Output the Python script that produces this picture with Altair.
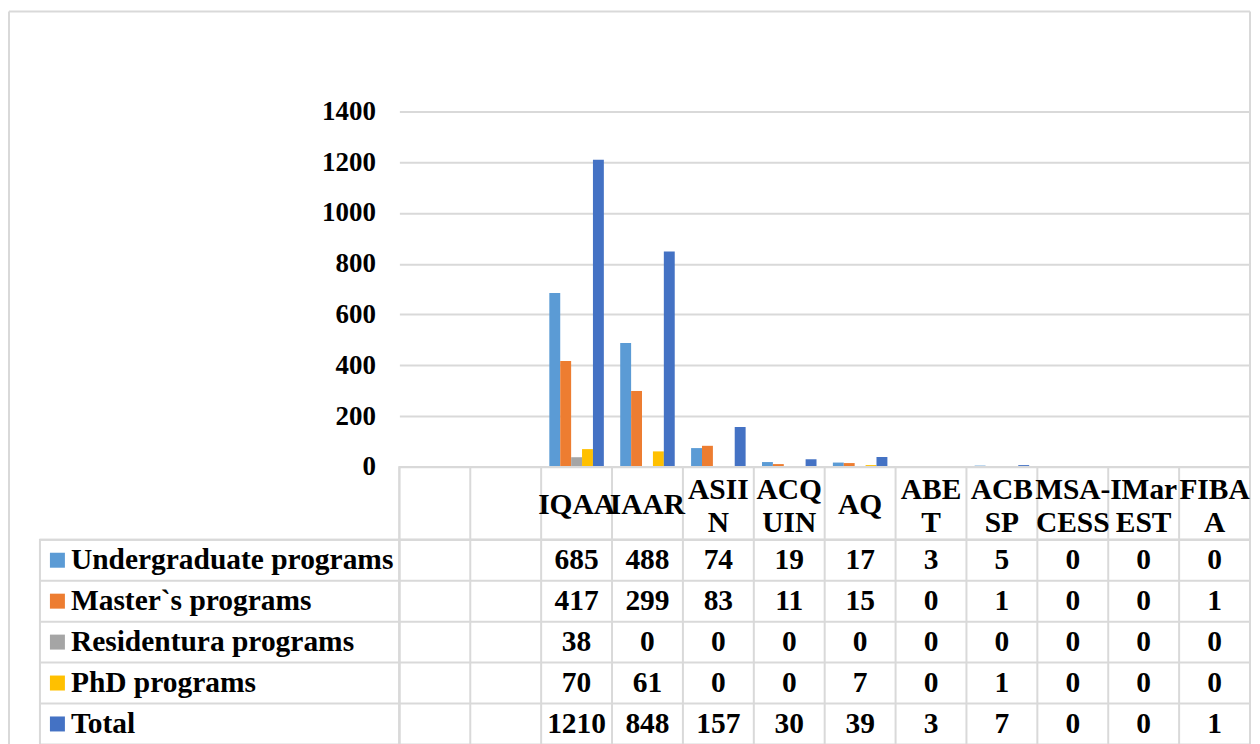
import altair as alt
import pandas as pd

# ---------------- data ----------------
blank_columns = ["_blank1", "_blank2"]
categories = ["IQAA", "IAAR", "ASIIN", "ACQUIN", "AQ", "ABET", "ACBSP",
              "MSA-CESS", "IMarEST", "FIBAA"]
header_labels = ["IQAA", "IAAR", "ASII\nN", "ACQ\nUIN", "AQ", "ABE\nT",
                 "ACB\nSP", "MSA-\nCESS", "IMar\nEST", "FIBA\nA"]
series = ["Undergraduate programs", "Master`s programs",
          "Residentura programs", "PhD programs", "Total"]
undergraduate = [685, 488, 74, 19, 17, 3, 5, 0, 0, 0]
masters = [417, 299, 83, 11, 15, 0, 1, 0, 0, 1]
residentura = [38, 0, 0, 0, 0, 0, 0, 0, 0, 0]
phd = [70, 61, 0, 0, 7, 0, 1, 0, 0, 0]
total = [1210, 848, 157, 30, 39, 3, 7, 0, 0, 1]
y_ticks = [0, 200, 400, 600, 800, 1000, 1200, 1400]

colors = ["#5B9BD5", "#ED7D31", "#A5A5A5", "#FFC000", "#4472C4"]
GRID = "#D9D9D9"
FONT = "Liberation Serif"
FS = 29.5

rows = []
for s, vals in zip(series, [undergraduate, masters, residentura, phd, total]):
    for c, v in zip(categories, vals):
        rows.append({"series": s, "category": c, "value": v})
df = pd.DataFrame(rows)
hdr_df = pd.DataFrame({"category": categories, "label": header_labels})
hdr_df["nlines"] = hdr_df["label"].str.count("\n") + 1
col_df = pd.DataFrame({"category": blank_columns + categories})
ser_df = pd.DataFrame({"series": series})
one = pd.DataFrame({"k": [0]})

# ---------------- geometry ----------------
LABEL_W = 360
PLOT_W = 852
BAR_H = 356
HDR_H = 73
TABLE_H = 205

x_scale = alt.Scale(domain=blank_columns + categories, paddingInner=0, paddingOuter=0)
y_rows = alt.Scale(domain=series, paddingInner=0, paddingOuter=0)
color_scale = alt.Scale(domain=series, range=colors)
table_view = alt.ViewBackground(stroke=GRID, strokeWidth=2)

# ---------------- top-left (outer chart border) ----------------
RIGHT = LABEL_W + PLOT_W
border = alt.Chart(one).mark_rule(color=GRID, strokeWidth=2)
top_left = alt.layer(
    border.encode(x=alt.value(-31), y=alt.value(-100), y2=alt.value(660)),
    border.encode(x=alt.value(-31), x2=alt.value(RIGHT), y=alt.value(-100)),
    border.encode(x=alt.value(RIGHT), y=alt.value(-100), y2=alt.value(660)),
).properties(width=LABEL_W, height=BAR_H)

# ---------------- bars ----------------
bars = alt.Chart(df).mark_bar().encode(
    x=alt.X("category:N", scale=x_scale, axis=None),
    xOffset=alt.XOffset("series:N",
                        scale=alt.Scale(domain=series, paddingInner=0, paddingOuter=0.75)),
    y=alt.Y("value:Q", scale=alt.Scale(domain=[0, 1400], nice=False),
            axis=alt.Axis(values=y_ticks, format="d", title=None, grid=True,
                          gridColor=GRID, gridWidth=2, domain=False, ticks=False,
                          labelFont=FONT, labelFontWeight="bold", labelFontSize=27,
                          labelColor="black", labelPadding=24)),
    color=alt.Color("series:N", scale=color_scale, legend=None),
).properties(width=PLOT_W, height=BAR_H)

# ---------------- middle-left (empty) ----------------
mid_left = alt.Chart(one).mark_text(text="").encode(
    x=alt.value(0), y=alt.value(0)
).properties(width=LABEL_W, height=HDR_H)

# ---------------- header row ----------------
hdr_lines = alt.Chart(col_df).mark_rule(color=GRID, strokeWidth=2).encode(
    x=alt.X("category:N", scale=x_scale, axis=None, bandPosition=0)
)
hdr_base = alt.Chart(hdr_df).mark_text(
    font=FONT, fontWeight="bold", fontSize=FS, color="black",
    lineBreak="\n", lineHeight=33, baseline="middle", align="center"
)
hdr_one = hdr_base.transform_filter(alt.datum.nlines == 1).encode(
    x=alt.X("category:N", scale=x_scale, axis=None),
    y=alt.value(38),
    text="label:N",
)
hdr_two = hdr_base.transform_filter(alt.datum.nlines == 2).encode(
    x=alt.X("category:N", scale=x_scale, axis=None),
    y=alt.value(23),
    text="label:N",
)
header = alt.layer(hdr_lines, hdr_one, hdr_two).properties(
    width=PLOT_W, height=HDR_H, view=table_view)

# ---------------- label column ----------------
lab_lines = alt.Chart(ser_df).mark_rule(color=GRID, strokeWidth=2).encode(
    y=alt.Y("series:N", scale=y_rows, axis=None, bandPosition=0)
)
lab_squares = alt.Chart(ser_df).mark_square(size=225, opacity=1).encode(
    x=alt.value(17.5),
    y=alt.Y("series:N", scale=y_rows, axis=None),
    color=alt.Color("series:N", scale=color_scale, legend=None),
)
lab_text = alt.Chart(ser_df).mark_text(
    font=FONT, fontWeight="bold", fontSize=FS, color="black",
    align="left", baseline="middle"
).encode(
    x=alt.value(31),
    y=alt.Y("series:N", scale=y_rows, axis=None),
    text="series:N",
)
labels = alt.layer(lab_lines, lab_squares, lab_text).properties(
    width=LABEL_W, height=TABLE_H, view=table_view)

# ---------------- value grid ----------------
val_hlines = alt.Chart(ser_df).mark_rule(color=GRID, strokeWidth=2).encode(
    y=alt.Y("series:N", scale=y_rows, axis=None, bandPosition=0)
)
val_vlines = alt.Chart(col_df).mark_rule(color=GRID, strokeWidth=2).encode(
    x=alt.X("category:N", scale=x_scale, axis=None, bandPosition=0)
)
val_text = alt.Chart(df).mark_text(
    font=FONT, fontWeight="bold", fontSize=FS, color="black",
    align="center", baseline="middle"
).encode(
    x=alt.X("category:N", scale=x_scale, axis=None),
    y=alt.Y("series:N", scale=y_rows, axis=None),
    text=alt.Text("value:Q", format="d"),
)
values = alt.layer(val_hlines, val_vlines, val_text).properties(
    width=PLOT_W, height=TABLE_H, view=table_view)

chart = alt.concat(
    top_left, bars, mid_left, header, labels, values,
    columns=2, spacing=0, bounds="flush",
).properties(
    padding={"left": 0, "top": 2, "right": 0, "bottom": 0},
    background="white",
).configure_view(strokeWidth=0)

chart.save("out.html", embed_options={"renderer": "svg", "actions": False})
